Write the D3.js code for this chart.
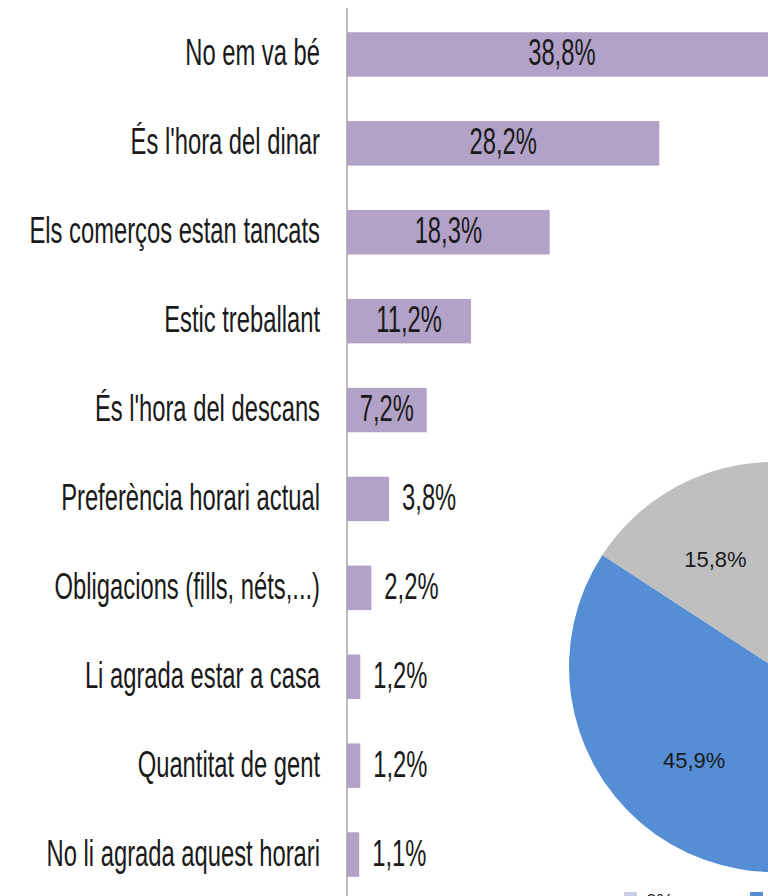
<!DOCTYPE html>
<html>
<head>
<meta charset="utf-8">
<script src="https://cdn.jsdelivr.net/npm/d3@7"></script>
<style>
  html, body { margin: 0; padding: 0; background: #fff; overflow: hidden; }
  svg { display: block; }
</style>
</head>
<body>
<div class="visualization"></div>
<script>
//data
const categories = [
  "No em va bé",
  "És l'hora del dinar",
  "Els comerços estan tancats",
  "Estic treballant",
  "És l'hora del descans",
  "Preferència horari actual",
  "Obligacions (fills, néts,...)",
  "Li agrada estar a casa",
  "Quantitat de gent",
  "No li agrada aquest horari"
];
const values = [38.8, 28.2, 18.3, 11.2, 7.2, 3.8, 2.2, 1.2, 1.2, 1.1];

// pie: only part of it is inside the picture, the rest is the remainder
const pieLabels = ["Altres", "No", "Sí"];
const pieValues = [38.3, 45.9, 15.8];
const pieColors = ["#ffffff", "#558ed5", "#bfbfbf"];

//constants
const width = 768;
const height = 896;
const squash = 0.66; // the labels are drawn in a narrow font
const fmt = v => d3.format(".1f")(v).replace(".", ",") + "%";

const svg = d3.select(".visualization")
    .append("svg")
    .attr("width", width)
    .attr("height", height);

const x = d3.scaleLinear().domain([0, 40]).range([347, 790]);
const y = d3.scaleBand()
    .domain(categories)
    .range([10, 899])
    .paddingInner(0.5)
    .paddingOuter(0.25);

// pie first, so the bars stay on top
const pieG = svg.append("g").attr("transform", "translate(774,667)");
const radius = 205;
const pie = d3.pie().sort(null).value(d => d);
const arc = d3.arc().innerRadius(0).outerRadius(radius);
const labelArc = d3.arc().innerRadius(radius * 0.6).outerRadius(radius * 0.6);
const slices = pie(pieValues);

pieG.selectAll("path")
    .data(slices)
    .enter()
    .append("path")
    .attr("d", arc)
    .style("fill", (d, i) => pieColors[i]);

// the remainder slice lies outside the picture, so it gets no label
pieG.selectAll("text")
    .data(slices.slice(1))
    .enter()
    .append("text")
    .attr("transform", d => `translate(${labelArc.centroid(d)})`)
    .attr("text-anchor", "middle")
    .attr("dy", "0.35em")
    .style("font-family", "Liberation Sans, Arial, sans-serif")
    .style("font-size", "22px")
    .style("fill", "#1a1a1a")
    .text(d => fmt(d.data));

// pie legend, cut off at the bottom edge
const legendItems = [{ name: pieLabels[2], color: "#c5cfe6", x: 624 }, { name: pieLabels[1], color: "#558ed5", x: 750 }];
const legendItem = svg.append("g")
    .selectAll("g")
    .data(legendItems)
    .enter()
    .append("g")
    .attr("transform", d => `translate(${d.x},892)`);
legendItem.append("rect")
    .attr("width", 13)
    .attr("height", 13)
    .style("fill", d => d.color);
legendItem.append("text")
    .attr("x", 22)
    .attr("y", 15)
    .style("font-family", "Liberation Sans, Arial, sans-serif")
    .style("font-size", "19px")
    .style("fill", "#1a1a1a")
    .text(d => "0%");

// bars
const barG = svg.append("g");
barG.selectAll("rect")
    .data(values)
    .enter()
    .append("rect")
    .attr("x", x(0))
    .attr("y", (d, i) => y(categories[i]))
    .attr("width", d => x(d) - x(0))
    .attr("height", y.bandwidth())
    .style("fill", "#b3a2c7");

// value labels: centred inside a bar when they fit, after it otherwise
const inside = d => x(d) - x(0) > 70;
barG.selectAll("text")
    .data(values)
    .enter()
    .append("text")
    .attr("transform", (d, i) => {
      const cy = y(categories[i]) + y.bandwidth() / 2 + 11;
      const cx = inside(d) ? (x(0) + x(d)) / 2 : x(d) + 13;
      return `translate(${cx},${cy}) scale(${squash},1)`;
    })
    .attr("text-anchor", d => inside(d) ? "middle" : "start")
    .style("font-family", "Liberation Sans, Arial, sans-serif")
    .style("font-size", "36px")
    .style("fill", "#1a1a1a")
    .text(d => fmt(d));

// category labels
svg.append("g")
    .selectAll("text")
    .data(categories)
    .enter()
    .append("text")
    .attr("transform", d => `translate(320,${y(d) + y.bandwidth() / 2 + 11}) scale(${squash},1)`)
    .attr("text-anchor", "end")
    .style("font-family", "Liberation Sans, Arial, sans-serif")
    .style("font-size", "36px")
    .style("fill", "#1a1a1a")
    .text(d => d);

// vertical axis line
svg.append("line")
    .attr("x1", x(0)).attr("x2", x(0))
    .attr("y1", 8).attr("y2", height)
    .style("stroke", "#a6a6a6")
    .style("stroke-width", 1.5);
</script>
</body>
</html>
